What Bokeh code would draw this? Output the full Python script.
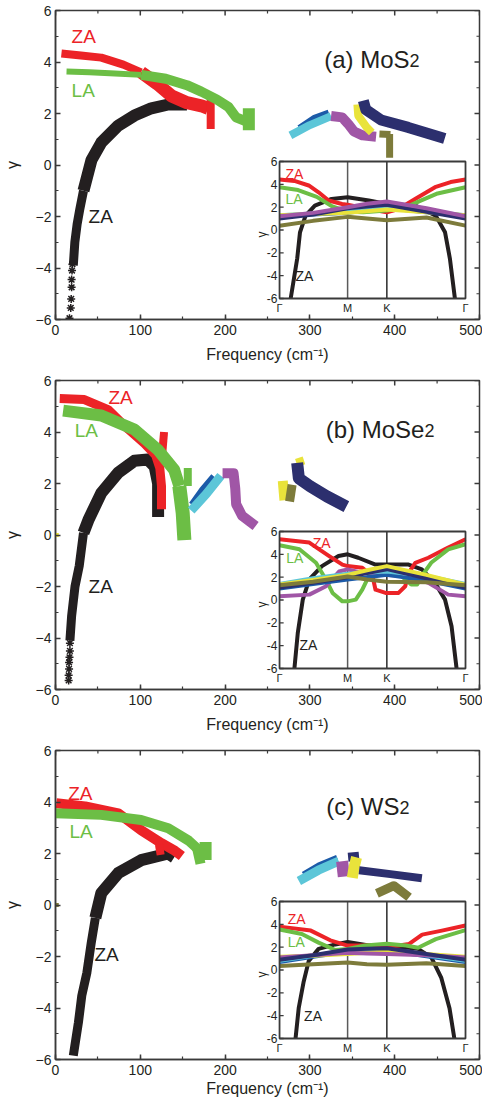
import math
from bokeh.plotting import figure
from bokeh.models import Range1d, SingleIntervalTicker
from bokeh.layouts import column
from bokeh.core.properties import value
from bokeh.embed import file_html
from bokeh.resources import INLINE

FONT = "Liberation Sans"
AX = "#3a3a3a"
C_RED = "#ec2327"
C_GRN = "#6cbe45"
C_BLK = "#231f20"
C_DBL = "#1c5ba8"
C_CYN = "#5cc6d8"
C_PUR = "#a056a6"
C_YEL = "#e9e33b"
C_NAV = "#2c2f6e"
C_OLV = "#7d7b3b"

FRAME_W = 424
FRAME_H = 309

# ---------------- axis tick values ----------------
X_MAJOR = [0, 100, 200, 300, 400, 500]
X_MINOR = [50, 150, 250, 350, 450]
Y_MAJOR = [-6, -4, -2, 0, 2, 4, 6]
Y_MINOR = [-5, -3, -1, 1, 3, 5]
INSET_Y_TICKS = [-6, -4, -2, 0, 2, 4, 6]
INSET_Y_LABELS = ["-6", "-4", "-2", "0", "2", "4", "6"]
INSET_PATH = [0.0, 0.366, 0.577, 1.0]
INSET_PATH_LABELS = ["Γ", "M", "K", "Γ"]
INSET_KNOTS = [0.0, 0.18, 0.366, 0.47, 0.577, 0.79, 1.0]

# ================= Panel (a) MoS2 : main =================
A_ZA_LOW_X = [21, 22.8, 25.5, 28.6, 33]
A_ZA_LOW_Y = [-3.9, -3.0, -2.3, -1.73, -1.0]
A_ZA_HIGH_X = [33, 42.5, 54, 74, 93, 113, 133, 155]
A_ZA_HIGH_Y = [-1.0, 0.2, 0.87, 1.53, 1.92, 2.2, 2.35, 2.35]
A_ZA_PTS_X = [20, 19.5, 19, 19, 18.5, 18, 16.5]
A_ZA_PTS_Y = [-3.85, -4.1, -4.45, -4.75, -5.2, -5.55, -5.95]
A_RED1_X = [7, 30, 54, 80, 101]
A_RED1_Y = [4.33, 4.25, 4.17, 3.9, 3.6]
A_RED2_X = [101, 120, 137, 155, 172, 180]
A_RED2_Y = [3.6, 3.15, 2.68, 2.42, 2.3, 2.2]
A_RED3_X = [183, 183]
A_RED3_Y = [2.6, 1.4]
A_GRN1_X = [13, 40, 70, 101]
A_GRN1_Y = [3.63, 3.6, 3.55, 3.5]
A_GRN2_X = [101, 130, 155, 172, 190, 204, 213, 224]
A_GRN2_Y = [3.5, 3.35, 3.1, 2.85, 2.55, 2.25, 1.85, 1.7]
A_GRN3_X = [228, 228]
A_GRN3_Y = [2.2, 1.35]
A_DBL_X = [287, 305, 322]
A_DBL_Y = [1.45, 1.85, 2.05]
A_CYN_X = [277, 300, 325]
A_CYN_Y = [1.15, 1.55, 1.9]
A_PUR_X = [325, 338, 345, 352, 362, 378]
A_PUR_Y = [1.9, 1.85, 1.6, 1.3, 1.15, 1.1]
A_YEL_X = [356, 357, 367, 373]
A_YEL_Y = [2.35, 1.92, 1.46, 1.26]
A_NAV_X = [363, 366, 384, 416, 459]
A_NAV_Y = [2.5, 2.15, 1.75, 1.46, 1.03]
A_OLV1_X = [382, 395]
A_OLV1_Y = [1.2, 1.18]
A_OLV2_X = [394, 394]
A_OLV2_Y = [1.2, 0.28]

# ---- Panel (a) inset ----
IA_BLK_X = [0.06, 0.095, 0.11, 0.14, 0.19, 0.28, 0.366, 0.48, 0.577, 0.73, 0.84, 0.89, 0.916, 0.943]
IA_BLK_Y = [-6, -2.5, -0.2, 1.26, 2.14, 2.72, 2.87, 2.58, 2.28, 2.14, 1.26, -0.2, -2.5, -6]
IA_RED_X = [0, 0.08, 0.157, 0.21, 0.264, 0.336, 0.366, 0.479, 0.577, 0.64, 0.729, 0.836, 0.92, 1]
IA_RED_Y = [4.42, 4.3, 3.9, 3.3, 2.58, 2.28, 2.22, 1.84, 1.55, 1.84, 2.72, 3.75, 4.2, 4.42]
IA_GRN_X = [0, 0.1, 0.2, 0.28, 0.366, 0.45, 0.577, 0.68, 0.75, 0.85, 1]
IA_GRN_Y = [3.75, 3.5, 2.9, 2.1, 1.6, 1.55, 1.7, 2.0, 2.5, 3.2, 3.75]
IA_OLV_Y = [0.38, 0.8, 1.15, 1.0, 0.85, 1.1, 0.38]
IA_DBL_Y = [1.2, 1.35, 1.5, 1.7, 1.9, 1.55, 1.2]
IA_CYN_Y = [1.3, 1.45, 1.6, 1.8, 2.0, 1.65, 1.3]
IA_YEL_Y = [1.3, 1.4, 1.5, 1.65, 1.8, 1.55, 1.3]
IA_NAV_Y = [1.0, 1.35, 1.9, 2.05, 2.2, 1.6, 1.0]
IA_PUR_Y = [1.2, 1.5, 2.0, 2.3, 2.5, 1.9, 1.2]

# ================= Panel (b) MoSe2 : main =================
B_ZA_LOW_X = [17, 19, 23, 28, 33]
B_ZA_LOW_Y = [-4.1, -3.15, -2.0, -1.2, 0.08]
B_ZA_HIGH_X = [33, 39, 54, 74, 93, 109, 117, 121, 121, 121]
B_ZA_HIGH_Y = [0.08, 0.6, 1.63, 2.42, 2.88, 2.93, 2.65, 2.0, 1.3, 0.7]
B_ZA_PTS_X = [17, 17, 16.5, 16, 16, 15.5, 15.5]
B_ZA_PTS_Y = [-4.2, -4.5, -4.75, -4.95, -5.2, -5.45, -5.65]
B_RED1_X = [5, 34, 62, 86, 105, 118, 123, 125, 125]
B_RED1_Y = [5.3, 5.26, 4.87, 4.1, 3.55, 3.1, 2.6, 1.9, 1.0]
B_RED2_X = [126, 128]
B_RED2_Y = [3.2, 4.0]
B_GRN1_X = [9, 54, 93, 121, 140, 146]
B_GRN1_Y = [4.83, 4.64, 4.1, 3.3, 2.53, 1.9]
B_GRN2_X = [146, 150, 152]
B_GRN2_Y = [1.9, 0.86, -0.2]
B_GRN3_X = [156, 156]
B_GRN3_Y = [2.6, 1.9]
B_DBL_X = [160, 172, 186]
B_DBL_Y = [1.2, 1.75, 2.3]
B_CYN_X = [160, 178, 195]
B_CYN_Y = [0.95, 1.6, 2.3]
B_PUR_X = [197, 210, 212, 213, 220, 236]
B_PUR_Y = [2.4, 2.4, 1.8, 1.2, 0.75, 0.35]
B_YEL1_X = [287, 290]
B_YEL1_Y = [3.0, 2.7]
B_YEL2_X = [268, 270]
B_YEL2_Y = [2.1, 1.35]
B_YEL_DOT_X = [1.5]
B_YEL_DOT_Y = [0.0]
B_OLV_X = [279, 276]
B_OLV_Y = [1.95, 1.3]
B_NAV_X = [285, 287, 300, 320, 343]
B_NAV_Y = [2.8, 2.2, 1.9, 1.5, 1.1]

# ---- Panel (b) inset ----
IB_BLK_X = [0.08, 0.098, 0.125, 0.16, 0.228, 0.317, 0.366, 0.423, 0.516, 0.577, 0.694, 0.765, 0.836, 0.89, 0.925, 0.952]
IB_BLK_Y = [-6, -2.9, 0.03, 1.8, 2.97, 3.85, 4.0, 3.7, 3.1, 3.1, 3.1, 2.68, 1.5, 0.03, -2.3, -6]
IB_RED_X = [0, 0.16, 0.267, 0.338, 0.366, 0.445, 0.5, 0.516, 0.57, 0.64, 0.676, 0.694, 0.73, 0.8, 0.907, 1]
IB_RED_Y = [5.32, 5.03, 3.85, 3.1, 2.97, 2.82, 2.1, 0.9, 0.62, 0.62, 1.2, 2.38, 3.26, 3.7, 4.6, 5.32]
IB_GRN_X = [0, 0.107, 0.196, 0.249, 0.285, 0.338, 0.366, 0.41, 0.445, 0.48, 0.577, 0.655, 0.708, 0.74, 0.765, 0.815, 0.907, 1]
IB_GRN_Y = [4.8, 4.44, 3.26, 1.8, 0.62, -0.12, -0.12, 0.03, 0.9, 2.1, 2.38, 2.1, 1.35, 1.35, 2.1, 3.26, 4.44, 4.88]
IB_PUR_X = [0, 0.16, 0.25, 0.32, 0.366, 0.445, 0.577, 0.694, 0.8, 0.907, 1]
IB_PUR_Y = [0.32, 0.47, 1.2, 2.5, 2.68, 2.38, 2.2, 2.1, 1.5, 0.47, 0.32]
IB_OLV_Y = [1.3, 1.6, 2.05, 1.8, 1.6, 1.55, 1.3]
IB_DBL_Y = [1.0, 1.4, 1.8, 2.0, 2.2, 1.7, 1.0]
IB_CYN_Y = [1.4, 1.9, 2.3, 2.4, 2.5, 2.1, 1.4]
IB_NAV_Y = [1.1, 1.5, 2.0, 2.35, 2.7, 1.9, 1.1]
IB_YEL_Y = [1.35, 1.75, 2.2, 2.6, 2.97, 2.2, 1.35]

# ================= Panel (c) WS2 : main =================
C_ZA_LOW_X = [21, 27, 31, 37, 42, 47]
C_ZA_LOW_Y = [-5.85, -4.57, -3.52, -2.63, -1.5, -0.5]
C_ZA_HIGH_X = [47, 54, 74, 101, 133, 140]
C_ZA_HIGH_Y = [-0.5, 0.46, 1.24, 1.74, 2.0, 1.85]
C_RED1_X = [1, 35, 74, 101, 125, 141, 149]
C_RED1_Y = [3.95, 3.83, 3.56, 2.9, 2.4, 2.1, 1.9]
C_RED2_X = [122, 124]
C_RED2_Y = [2.35, 1.95]
C_GRN1_X = [0, 54, 101, 133, 157, 169]
C_GRN1_Y = [3.56, 3.5, 3.3, 2.98, 2.5, 2.14]
C_GRN2_X = [167, 171]
C_GRN2_Y = [2.2, 1.6]
C_GRN3_X = [177, 177]
C_GRN3_Y = [2.45, 1.75]
C_OLV_DOT_X = [1.5]
C_OLV_DOT_Y = [0.0]
C_DBL_X = [292, 310, 332]
C_DBL_Y = [1.2, 1.55, 1.85]
C_CYN_X = [287, 310, 334]
C_CYN_Y = [0.93, 1.35, 1.7]
C_PUR_X = [338, 340]
C_PUR_Y = [1.7, 1.1]
C_NAVB_X = [351, 352]
C_NAVB_Y = [2.05, 1.7]
C_YEL_X = [355, 352, 350]
C_YEL_Y = [1.85, 1.45, 1.05]
C_NAV_X = [358, 395, 432]
C_NAV_Y = [1.35, 1.2, 1.04]
C_OLV_X = [379, 399, 417]
C_OLV_Y = [0.45, 0.75, 0.3]

# ---- Panel (c) inset ----
IC_BLK_X = [0.086, 0.103, 0.13, 0.157, 0.21, 0.3, 0.366, 0.48, 0.577, 0.745, 0.816, 0.87, 0.914, 0.94]
IC_BLK_Y = [-6, -3.35, -1.0, 0.8, 1.85, 2.24, 2.45, 2.15, 2.15, 1.85, 1.1, -0.7, -3.35, -6]
IC_RED_X = [0, 0.168, 0.273, 0.366, 0.485, 0.577, 0.697, 0.767, 0.873, 1]
IC_RED_Y = [3.8, 3.45, 2.6, 2.14, 2.14, 2.0, 2.28, 3.1, 3.45, 3.9]
IC_GRN_X = [0, 0.12, 0.21, 0.3, 0.366, 0.46, 0.577, 0.68, 0.745, 0.84, 1]
IC_GRN_Y = [3.55, 3.15, 2.4, 1.75, 1.85, 2.15, 2.3, 2.15, 1.95, 2.7, 3.5]
IC_OLV_Y = [0.35, 0.5, 0.65, 0.5, 0.45, 0.6, 0.35]
IC_DBL_Y = [0.7, 1.15, 1.6, 1.65, 1.7, 1.2, 0.7]
IC_CYN_Y = [0.8, 1.25, 1.7, 1.75, 1.8, 1.3, 0.8]
IC_YEL_Y = [1.15, 1.25, 1.4, 1.5, 1.6, 1.4, 1.15]
IC_PUR_Y = [1.1, 1.3, 1.5, 1.45, 1.4, 1.3, 1.1]
IC_NAV_Y = [0.9, 1.3, 1.8, 1.85, 1.9, 1.4, 0.9]

# inset placement inside the main frame (main data units)
INS_X0, INS_X1, INS_Y0, INS_Y1 = 264.2, 483.5, -5.184, 0.136


def txt(p, x, y, s, color, size, align="left", baseline="middle", angle=0.0, **kw):
    p.text(x=[x], y=[y], text=[s], text_color=color, text_font=value(FONT),
           text_font_size=size, text_align=align, text_baseline=baseline,
           angle=angle, **kw)


def make_panel(bottom, xlab_standoff, bands, pts, dots, labels, title, inset):
    p = figure(frame_width=FRAME_W, frame_height=FRAME_H,
               x_range=Range1d(0, 500), y_range=Range1d(-6, 6),
               output_backend="svg", toolbar_location=None,
               min_border_left=46, min_border_right=3, min_border_top=10,
               min_border_bottom=bottom,
               x_axis_label="Frequency (cm⁻¹)", y_axis_label="γ")
    p.grid.visible = False
    p.outline_line_color = AX
    p.outline_line_width = 1.5
    p.xaxis.ticker = SingleIntervalTicker(interval=100, num_minor_ticks=2)
    p.yaxis.ticker = SingleIntervalTicker(interval=2, num_minor_ticks=2)
    for ax in p.axis:
        ax.axis_line_color = AX
        ax.axis_line_width = 1.5
        ax.major_tick_line_color = AX
        ax.major_tick_line_width = 1.5
        ax.minor_tick_line_color = AX
        ax.minor_tick_line_width = 1.2
        ax.major_tick_in = 5
        ax.major_tick_out = 0
        ax.minor_tick_in = 3
        ax.minor_tick_out = 0
        ax.major_label_text_font = FONT
        ax.major_label_text_font_size = "14px"
        ax.major_label_text_color = C_BLK
        ax.axis_label_text_font = FONT
        ax.axis_label_text_font_style = "normal"
        ax.axis_label_text_font_size = "16px"
        ax.axis_label_text_color = C_BLK
    p.xaxis[0].axis_label_standoff = xlab_standoff
    p.yaxis[0].axis_label_standoff = 12
    p.xaxis[0].major_label_standoff = 5
    p.yaxis[0].major_label_standoff = 4

    # inward ticks on the top and right frame edges
    dy_major = 5 * 12.0 / FRAME_H
    dy_minor = 3 * 12.0 / FRAME_H
    dx_major = 5 * 500.0 / FRAME_W
    dx_minor = 3 * 500.0 / FRAME_W
    p.segment(x0=X_MAJOR, x1=X_MAJOR, y0=[6] * len(X_MAJOR), y1=[6 - dy_major] * len(X_MAJOR),
              line_color=AX, line_width=1.5)
    p.segment(x0=X_MINOR, x1=X_MINOR, y0=[6] * len(X_MINOR), y1=[6 - dy_minor] * len(X_MINOR),
              line_color=AX, line_width=1.2)
    p.segment(x0=[500] * len(Y_MAJOR), x1=[500 - dx_major] * len(Y_MAJOR), y0=Y_MAJOR, y1=Y_MAJOR,
              line_color=AX, line_width=1.5)
    p.segment(x0=[500] * len(Y_MINOR), x1=[500 - dx_minor] * len(Y_MINOR), y0=Y_MINOR, y1=Y_MINOR,
              line_color=AX, line_width=1.2)

    for xs, ys, c, w in bands:
        p.line(xs, ys, line_color=c, line_width=w, line_join="round", line_cap="butt")
    if pts is not None:
        p.scatter(pts[0], pts[1], marker="asterisk", size=8, line_color=C_BLK, line_width=1.5)
    if dots is not None:
        p.scatter(dots[0], dots[1], marker="square", size=4, fill_color=dots[2],
                  line_color=None)
    for x, y, s, c in labels:
        txt(p, x, y, s, c, "19px")
    tx, ty, tmain, tsub = title
    txt(p, tx, ty, tmain, C_BLK, "24px", align="right", baseline="alphabetic")
    txt(p, tx, ty - 0.06, tsub, C_BLK, "18px", align="left", baseline="alphabetic")

    # ---------------- inset ----------------
    sx = INS_X1 - INS_X0
    p.extra_x_ranges = {"ix": Range1d((0 - INS_X0) / sx, (500 - INS_X0) / sx)}
    k = 12.0 / (INS_Y1 - INS_Y0)
    p.extra_y_ranges = {"iy": Range1d(-6 + (-6 - INS_Y0) * k, -6 + (6 - INS_Y0) * k)}
    kw = dict(x_range_name="ix", y_range_name="iy")
    p.quad(left=[0], right=[1], bottom=[-6], top=[6], fill_color="white", line_color=None, **kw)
    p.segment(x0=INSET_PATH[1:3], x1=INSET_PATH[1:3], y0=[-6, -6], y1=[6, 6],
              line_color=["#5a5a5a", "#2a2a2a"], line_width=1.5, **kw)
    curves, ilabels = inset
    for xs, ys, c in curves:
        p.line(xs, ys, line_color=c, line_width=4, line_join="round", **kw)
    p.quad(left=[0], right=[1], bottom=[-6], top=[6], fill_color=None,
           line_color=AX, line_width=1.8, **kw)
    n = len(INSET_Y_TICKS)
    p.segment(x0=[0] * n, x1=[0.022] * n, y0=INSET_Y_TICKS, y1=INSET_Y_TICKS,
              line_color=AX, line_width=1.3, **kw)
    p.text(x=[-0.012] * n, y=INSET_Y_TICKS, text=INSET_Y_LABELS, text_color=C_BLK,
           text_font=value(FONT), text_font_size="12px", text_align="right",
           text_baseline="middle", **kw)
    p.text(x=INSET_PATH, y=[-6.3] * 4, text=INSET_PATH_LABELS, text_color=C_BLK,
           text_font=value(FONT), text_font_size="11px", text_align="center",
           text_baseline="top", **kw)
    txt(p, -0.095, -0.4, "γ", C_BLK, "12px", align="center", angle=math.pi / 2, **kw)
    for x, y, s, c in ilabels:
        txt(p, x, y, s, c, "14px", **kw)
    return p


def knots(ys):
    return INSET_KNOTS, ys


# ---------- panel (a) ----------
pa = make_panel(
    51, 8,
    bands=[
        (A_ZA_LOW_X, A_ZA_LOW_Y, C_BLK, 9), (A_ZA_HIGH_X, A_ZA_HIGH_Y, C_BLK, 12),
        (A_RED1_X, A_RED1_Y, C_RED, 8), (A_RED2_X, A_RED2_Y, C_RED, 13), (A_RED3_X, A_RED3_Y, C_RED, 8),
        (A_GRN1_X, A_GRN1_Y, C_GRN, 6), (A_GRN2_X, A_GRN2_Y, C_GRN, 10), (A_GRN3_X, A_GRN3_Y, C_GRN, 12),
        (A_DBL_X, A_DBL_Y, C_DBL, 5), (A_CYN_X, A_CYN_Y, C_CYN, 8),
        (A_PUR_X, A_PUR_Y, C_PUR, 10), (A_YEL_X, A_YEL_Y, C_YEL, 8),
        (A_NAV_X, A_NAV_Y, C_NAV, 11), (A_OLV1_X, A_OLV1_Y, C_OLV, 7), (A_OLV2_X, A_OLV2_Y, C_OLV, 7),
    ],
    pts=(A_ZA_PTS_X, A_ZA_PTS_Y),
    dots=None,
    labels=[(19, 4.99, "ZA", C_RED), (19, 2.9, "LA", C_GRN), (39, -2.0, "ZA", C_BLK)],
    title=(417.5, 4.11, "(a) MoS", "2"),
    inset=(
        [(IA_BLK_X, IA_BLK_Y, C_BLK), (IA_RED_X, IA_RED_Y, C_RED), (IA_GRN_X, IA_GRN_Y, C_GRN),
         (*knots(IA_OLV_Y), C_OLV), (*knots(IA_DBL_Y), C_DBL), (*knots(IA_CYN_Y), C_CYN),
         (*knots(IA_YEL_Y), C_YEL), (*knots(IA_NAV_Y), C_NAV), (*knots(IA_PUR_Y), C_PUR)],
        [(0.032, 4.92, "ZA", C_RED), (0.032, 2.72, "LA", C_GRN), (0.086, -4.0, "ZA", C_BLK)],
    ),
)

# ---------- panel (b) ----------
pb = make_panel(
    51, 8,
    bands=[
        (B_ZA_LOW_X, B_ZA_LOW_Y, C_BLK, 9), (B_ZA_HIGH_X, B_ZA_HIGH_Y, C_BLK, 12),
        (B_RED1_X, B_RED1_Y, C_RED, 9), (B_RED2_X, B_RED2_Y, C_RED, 8),
        (B_GRN1_X, B_GRN1_Y, C_GRN, 12), (B_GRN2_X, B_GRN2_Y, C_GRN, 14), (B_GRN3_X, B_GRN3_Y, C_GRN, 8),
        (B_DBL_X, B_DBL_Y, C_DBL, 5), (B_CYN_X, B_CYN_Y, C_CYN, 9),
        (B_PUR_X, B_PUR_Y, C_PUR, 10),
        (B_YEL1_X, B_YEL1_Y, C_YEL, 8), (B_YEL2_X, B_YEL2_Y, C_YEL, 10), (B_OLV_X, B_OLV_Y, C_OLV, 9),
        (B_NAV_X, B_NAV_Y, C_NAV, 12),
    ],
    pts=(B_ZA_PTS_X, B_ZA_PTS_Y),
    dots=(B_YEL_DOT_X, B_YEL_DOT_Y, C_YEL),
    labels=[(62.5, 5.34, "ZA", C_RED), (22.6, 4.05, "LA", C_GRN), (39, -1.99, "ZA", C_BLK)],
    title=(435, 4.11, "(b) MoSe", "2"),
    inset=(
        [(IB_BLK_X, IB_BLK_Y, C_BLK), (IB_RED_X, IB_RED_Y, C_RED), (IB_GRN_X, IB_GRN_Y, C_GRN),
         (IB_PUR_X, IB_PUR_Y, C_PUR), (*knots(IB_DBL_Y), C_DBL), (*knots(IB_CYN_Y), C_CYN),
         (*knots(IB_NAV_Y), C_NAV), (*knots(IB_YEL_Y), C_YEL), (*knots(IB_OLV_Y), C_OLV)],
        [(0.178, 5.0, "ZA", C_RED), (0.036, 3.7, "LA", C_GRN), (0.107, -3.95, "ZA", C_BLK)],
    ),
)

# ---------- panel (c) ----------
pc = make_panel(
    41, 2,
    bands=[
        (C_ZA_LOW_X, C_ZA_LOW_Y, C_BLK, 9), (C_ZA_HIGH_X, C_ZA_HIGH_Y, C_BLK, 12),
        (C_RED1_X, C_RED1_Y, C_RED, 10), (C_RED2_X, C_RED2_Y, C_RED, 8),
        (C_GRN1_X, C_GRN1_Y, C_GRN, 10), (C_GRN2_X, C_GRN2_Y, C_GRN, 10), (C_GRN3_X, C_GRN3_Y, C_GRN, 12),
        (C_DBL_X, C_DBL_Y, C_DBL, 5), (C_CYN_X, C_CYN_Y, C_CYN, 9),
        (C_PUR_X, C_PUR_Y, C_PUR, 12), (C_NAVB_X, C_NAVB_Y, C_NAV, 11),
        (C_YEL_X, C_YEL_Y, C_YEL, 11), (C_NAV_X, C_NAV_Y, C_NAV, 8), (C_OLV_X, C_OLV_Y, C_OLV, 9),
    ],
    pts=None,
    dots=(C_OLV_DOT_X, C_OLV_DOT_Y, C_OLV),
    labels=[(15, 4.34, "ZA", C_RED), (16.5, 2.86, "LA", C_GRN), (46, -1.94, "ZA", C_BLK)],
    title=(405.7, 3.84, "(c) WS", "2"),
    inset=(
        [(IC_BLK_X, IC_BLK_Y, C_BLK), (IC_RED_X, IC_RED_Y, C_RED), (IC_GRN_X, IC_GRN_Y, C_GRN),
         (*knots(IC_OLV_Y), C_OLV), (*knots(IC_DBL_Y), C_DBL), (*knots(IC_CYN_Y), C_CYN),
         (*knots(IC_YEL_Y), C_YEL), (*knots(IC_PUR_Y), C_PUR), (*knots(IC_NAV_Y), C_NAV)],
        [(0.044, 4.48, "ZA", C_RED), (0.044, 2.43, "LA", C_GRN), (0.132, -4.0, "ZA", C_BLK)],
    ),
)

layout = column(pa, pb, pc, spacing=0)
open("out.html", "w").write(file_html(layout, INLINE))
